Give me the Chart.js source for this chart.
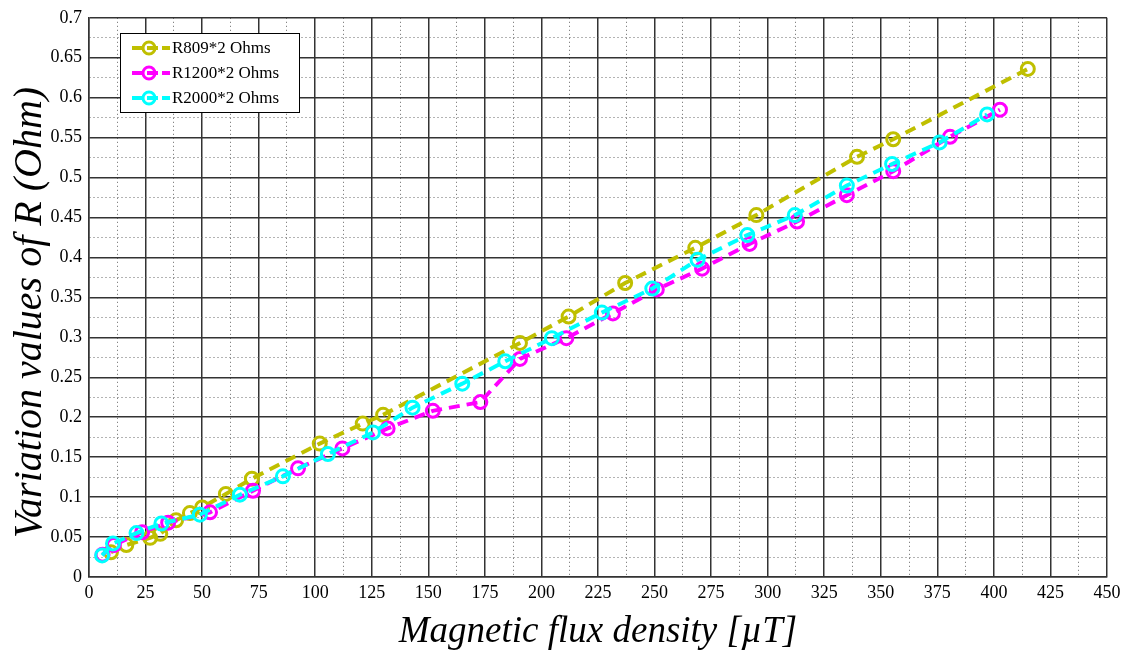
<!DOCTYPE html>
<html>
<head>
<meta charset="utf-8">
<script src="https://cdn.jsdelivr.net/npm/chart.js@4/dist/chart.umd.min.js"></script>
<style>
    body { margin: 0; background: #fff; }
    #wrap { width: 1129px; height: 652px; }
</style>
</head>
<body>
<div id="wrap"><canvas id="myChart"></canvas></div>
<script>
// values
let seriesLabels = ['R809*2 Ohms', 'R1200*2 Ohms', 'R2000*2 Ohms'];

let r809X = [9.7, 16.5, 27, 31.5, 38.5, 44.6, 50, 60.5, 72, 102, 121, 130, 190.5, 212, 237, 268, 295, 339.5, 355.5, 415];
let r809Y = [0.031, 0.040, 0.049, 0.054, 0.071, 0.080, 0.087, 0.104, 0.123, 0.167, 0.192, 0.203, 0.293, 0.326, 0.368, 0.412, 0.453, 0.526, 0.548, 0.636];

let r1200X = [6, 11, 23.5, 35, 53.5, 72.5, 92.4, 112, 132, 152, 173, 190.5, 211, 231.6, 251, 271, 292, 313, 335, 355.5, 380.6, 402.7];
let r1200Y = [0.028, 0.040, 0.056, 0.068, 0.081, 0.108, 0.136, 0.161, 0.186, 0.208, 0.219, 0.273, 0.299, 0.330, 0.360, 0.386, 0.417, 0.445, 0.478, 0.508, 0.551, 0.585];

let r2000X = [5.8, 10.6, 21, 32, 49, 66.7, 85.7, 105.6, 125.5, 143, 165, 184, 204.6, 226.7, 249, 269, 291, 312, 335, 355, 376, 397];
let r2000Y = [0.027, 0.042, 0.055, 0.067, 0.078, 0.103, 0.126, 0.154, 0.181, 0.212, 0.242, 0.270, 0.299, 0.331, 0.361, 0.397, 0.428, 0.453, 0.490, 0.517, 0.544, 0.579];

let xTicks = {min: 0, max: 450, step: 25};
let yTicks = {min: 0, max: 0.7, step: 0.05};

let colors = ['#bfbf00', '#ff00ff', '#00ffff'];
let serif = '"Liberation Serif", "Times New Roman", serif';

function toPoints(xs, ys) {
    return xs.map((x, i) => ({x: x, y: ys[i]}));
}

function makeSet(i, xs, ys, order) {
    return {
        label: seriesLabels[i],
        data: toPoints(xs, ys),
        showLine: true,
        borderColor: colors[i],
        backgroundColor: 'rgba(0,0,0,0)',
        borderWidth: 4,
        borderDash: [11, 7],
        pointRadius: 6.5,
        pointBorderWidth: 3,
        pointBorderColor: colors[i],
        pointBackgroundColor: 'rgba(0,0,0,0)',
        order: order
    };
}

// major line on every 2nd tick, dotted minor line in between
function isMajor(value, step) {
    return Math.round(value / (step / 2)) % 2 === 0;
}

// legend box inside the plot, MATLAB style
let boxLegend = {
    id: 'boxLegend',
    afterDraw(chart) {
        let c = chart.ctx;
        let x0 = 120, y0 = 33, w = 179, h = 79;
        c.save();
        c.fillStyle = '#fff';
        c.fillRect(x0, y0, w, h);
        c.strokeStyle = '#000';
        c.lineWidth = 1;
        c.strokeRect(x0 + 0.5, y0 + 0.5, w, h);
        c.font = '17px ' + serif;
        c.textBaseline = 'middle';
        chart.data.datasets.forEach((ds, i) => {
            let y = y0 + 15 + i * 25;
            c.strokeStyle = ds.borderColor;
            c.lineWidth = 4;
            c.setLineDash([11, 4]);
            c.beginPath();
            c.moveTo(132, y);
            c.lineTo(170, y);
            c.stroke();
            c.setLineDash([]);
            c.lineWidth = 3;
            c.beginPath();
            c.arc(149, y, 6, 0, Math.PI * 2);
            c.stroke();
            c.fillStyle = '#000';
            c.fillText(ds.label, 172, y + 1);
        });
        c.restore();
    }
};

let ctx = document.getElementById('myChart').getContext('2d');
let chart = new Chart(ctx, {
    type: 'scatter',
    data: {
        datasets: [
            makeSet(0, r809X, r809Y, 2),
            makeSet(1, r1200X, r1200Y, 1),
            makeSet(2, r2000X, r2000Y, 0)
        ]
    },
    plugins: [boxLegend],
    options: {
        responsive: true,
        maintainAspectRatio: false,
        devicePixelRatio: 1,
        animation: false,
        layout: {padding: {top: 15, right: 22, left: 0, bottom: 0}},
        plugins: {
            legend: {display: false},
            tooltip: {enabled: false}
        },
        scales: {
            x: {
                type: 'linear',
                min: xTicks.min,
                max: xTicks.max,
                afterFit(scale) { scale.height = 75; },
                ticks: {
                    stepSize: xTicks.step / 2,
                    autoSkip: false,
                    maxRotation: 0,
                    padding: 5,
                    color: '#000',
                    font: {family: serif, size: 18},
                    callback: v => isMajor(v, xTicks.step) ? String(Math.round(v)) : ''
                },
                grid: {
                    drawTicks: false,
                    color: ctx => isMajor(ctx.tick.value, xTicks.step) ? '#333' : '#666',
                    lineWidth: ctx => isMajor(ctx.tick.value, xTicks.step) ? 1.5 : 1
                },
                border: {
                    color: '#333',
                    width: 1.5,
                    dash: ctx => (ctx.tick && !isMajor(ctx.tick.value, xTicks.step)) ? [1, 3] : []
                },
                title: {
                    display: true,
                    text: 'Magnetic flux density [\u00b5T]',
                    color: '#000',
                    font: {family: serif, size: 37, style: 'italic'},
                    padding: {top: 0, bottom: -2}
                }
            },
            y: {
                type: 'linear',
                min: yTicks.min,
                max: yTicks.max,
                afterFit(scale) { scale.width = 89; },
                ticks: {
                    stepSize: yTicks.step / 2,
                    autoSkip: false,
                    padding: 7,
                    color: '#000',
                    font: {family: serif, size: 18},
                    callback: v => isMajor(v, yTicks.step) ? String(parseFloat(v.toFixed(3))) : ''
                },
                grid: {
                    drawTicks: false,
                    color: ctx => isMajor(ctx.tick.value, yTicks.step) ? '#333' : '#666',
                    lineWidth: ctx => isMajor(ctx.tick.value, yTicks.step) ? 1.5 : 1
                },
                border: {
                    color: '#333',
                    width: 1.5,
                    dash: ctx => (ctx.tick && !isMajor(ctx.tick.value, yTicks.step)) ? [1, 3] : []
                },
                title: {
                    display: true,
                    text: 'Variation values of R (Ohm)\u00a0\u00a0\u00a0',
                    color: '#000',
                    font: {family: serif, size: 40, style: 'italic'},
                    padding: {top: 6, bottom: 0}
                }
            }
        }
    }
});
</script>
</body>
</html>
